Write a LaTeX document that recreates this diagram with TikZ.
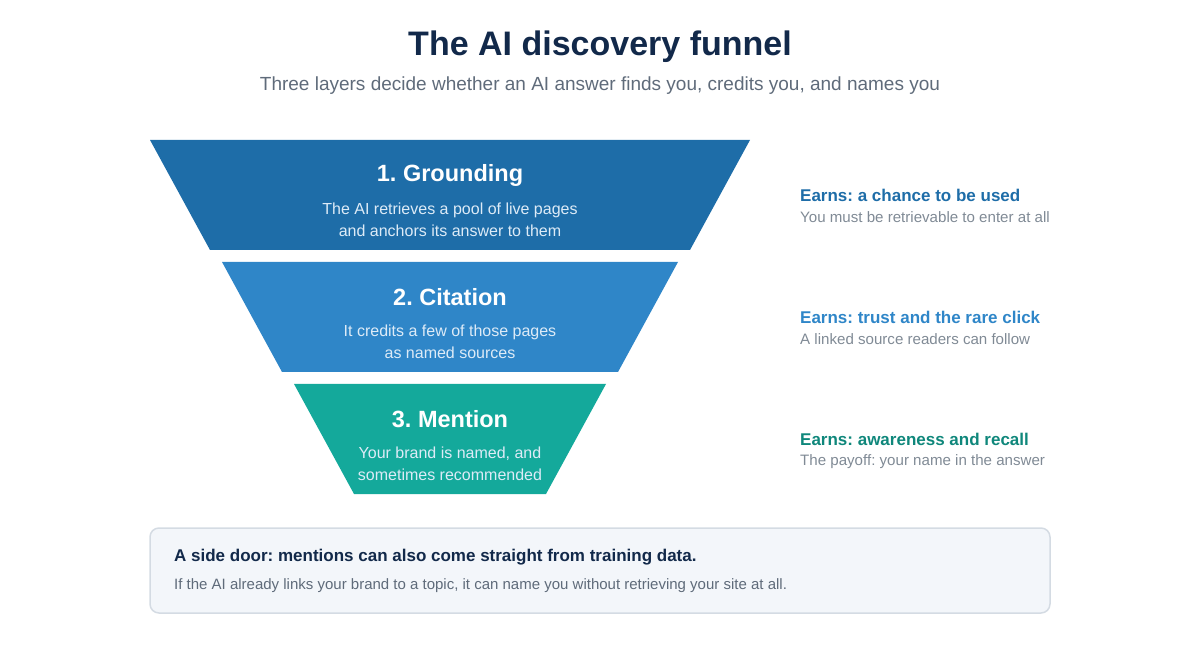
\documentclass[tikz,border=0pt]{standalone}
\usepackage{fontspec}
\setmainfont{Liberation Sans}
\frenchspacing
\definecolor{titlecol}{HTML}{12294A}
\definecolor{subcol}{HTML}{5F6B7A}
\definecolor{greycol}{HTML}{808A95}
\definecolor{layerA}{HTML}{1E6DA8}
\definecolor{layerB}{HTML}{2F86C8}
\definecolor{layerC}{HTML}{14A99B}
\definecolor{earnC}{HTML}{0F877B}
\definecolor{lighttxt}{HTML}{DDEBF7}
\definecolor{boxfill}{HTML}{F3F6FA}
\definecolor{boxline}{HTML}{D4DBE3}
\tikzset{
  head/.style={text=white,font=\bfseries\fontsize{23.5}{26}\selectfont,inner sep=0pt},
  desc/.style={text=lighttxt,font=\fontsize{16}{22}\selectfont,align=center,inner sep=0pt},
  earn/.style={anchor=west,font=\bfseries\fontsize{17}{20}\selectfont,inner sep=0pt},
  note/.style={anchor=west,text=greycol,font=\fontsize{15.1}{18}\selectfont,inner sep=0pt}
}
\begin{document}
\begin{tikzpicture}[x=1pt,y=-1pt,line join=round]
		\useasboundingbox (0,0) rectangle (1200,660);
		\node[text=titlecol,font=\bfseries\fontsize{34}{36}\selectfont] (title) at (600,47) {The AI discovery funnel};
		\node[text=subcol,font=\fontsize{19}{22}\selectfont] (subtitle) at (600,86) {Three layers decide whether an AI answer finds you, credits you, and names you};
		% trapezes du funnel
		\foreach \n/\y/\w/\c/\e/\h/\d/\t/\s in {
			1/140/300/layerA/layerA/1. Grounding/{The AI retrieves a pool of live pages\\and anchors its answer to them}/{Earns: a chance to be used}/{You must be retrievable to enter at all},
			2/262/228/layerB/layerB/2. Citation/{It credits a few of those pages\\as named sources}/{Earns: trust and the rare click}/{A linked source readers can follow},
			3/384/156/layerC/earnC/3. Mention/{Your brand is named, and\\sometimes recommended}/{Earns: awareness and recall}/{The payoff: your name in the answer}
		}{
			\path (450-\w,\y) coordinate (TL\n) (450+\w,\y) coordinate (TR\n)
				(450+\w-60,\y+110) coordinate (BR\n) (450-\w+60,\y+110) coordinate (BL\n);
			\fill[\c] (TL\n)--(TR\n)--(BR\n)--(BL\n)--cycle;
			\node[head] (head\n) at (450,\y+35.5) {\h};
			\node[desc] (desc\n) at (450,\y+79.5) {\d};
			\node[earn,text=\e] (earn\n) at (800,\y+55.5) {\t};
			\node[note] (note\n) at (800,\y+77.5) {\s};
		}
		% side door
		\draw[boxline,fill=boxfill,line width=1.5pt,rounded corners=9pt] (150,528) rectangle (1050,613);
		\node[anchor=west,text=titlecol,font=\bfseries\fontsize{17}{20}\selectfont,inner sep=0pt] (doorhead) at (174,557.5) {A side door: mentions can also come straight from training data.};
		\node[anchor=west,text=subcol,font=\fontsize{15}{18}\selectfont,inner sep=0pt] (doortext) at (174,585.5) {If the AI already links your brand to a topic, it can name you without retrieving your site at all.};
\end{tikzpicture}
\end{document}
